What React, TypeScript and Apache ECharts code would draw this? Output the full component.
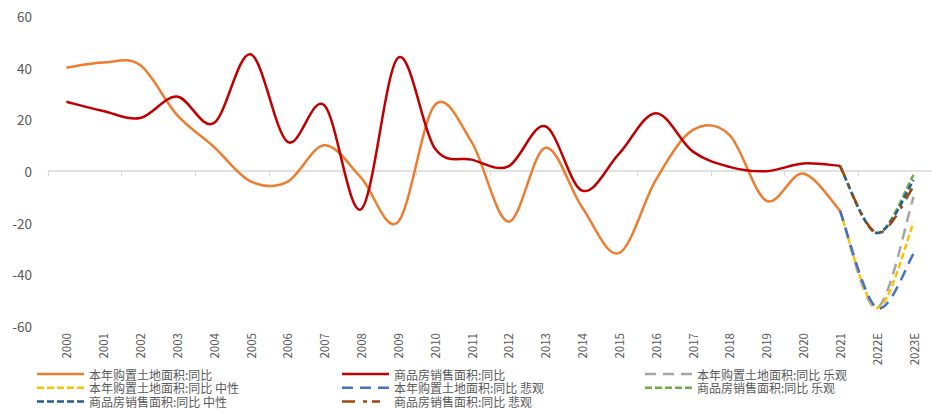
import { useEffect, useRef } from "react";
import * as echarts from "echarts";

// Category axis: 2000–2021 actuals plus two forecast years
const years = [
  "2000", "2001", "2002", "2003", "2004", "2005", "2006", "2007", "2008", "2009",
  "2010", "2011", "2012", "2013", "2014", "2015", "2016", "2017", "2018", "2019",
  "2020", "2021", "2022E", "2023E",
];

// Land purchase area, YoY % (2000–2021)
const landYoY = [
  40, 42, 41, 21.7, 9.4, -4, -4.2, 10, -2.6, -19.8,
  25.5, 11.3, -19.6, 9, -14, -31.8, -3.5, 15.8, 14, -11.5,
  -1, -15.3,
];

// Commodity housing sales area, YoY % (2000–2021)
const salesYoY = [
  26.8, 23.2, 20.5, 28.8, 18.5, 45.2, 11.3, 25.5, -14.8, 43.8,
  8.8, 4.4, 1.8, 17.3, -7.6, 6.6, 22.4, 7.6, 1.6, -0.1,
  2.9, 2.0,
];

// Scenario paths: 2021 actual, 2022E, 2023E
const landOptimistic = [-15.3, -53, -10];
const landNeutral = [-15.3, -53, -20];
const landPessimistic = [-15.3, -53, -32];
const salesOptimistic = [2.0, -24, -1.5];
const salesNeutral = [2.0, -24, -3.5];
const salesPessimistic = [2.0, -24, -6];

const yTicks = { min: -60, max: 60, interval: 20 };

const NAMES = {
  land: "本年购置土地面积:同比",
  sales: "商品房销售面积:同比",
  landOpt: "本年购置土地面积:同比 乐观",
  landNeu: "本年购置土地面积:同比 中性",
  landPes: "本年购置土地面积:同比 悲观",
  salesOpt: "商品房销售面积:同比 乐观",
  salesNeu: "商品房销售面积:同比 中性",
  salesPes: "商品房销售面积:同比 悲观",
};

const TEXT = "#595959";
const FONT = "'Noto Sans CJK SC', 'Noto Sans', sans-serif";

// Dash patterns (px) for the plotted strokes
const DASH_LONG = [11, 7];
const DASH_SHORT = [6.5, 3];
const DASH_DOT = [12, 8, 3, 8];

// Legend glyphs: strips of rectangles, 47 x 2.5
const ICON_SOLID = "path://M0 0H47V2.5H0Z";
const ICON_LONG = "path://M0 0H11V2.5H0ZM18 0H29V2.5H18ZM36 0H47V2.5H36Z";
const ICON_SHORT =
  "path://M0 0H7V2.5H0ZM10 0H17V2.5H10ZM20 0H27V2.5H20ZM30 0H37V2.5H30ZM40 0H47V2.5H40Z";
const ICON_DASHDOT = "path://M0 0H13V2.5H0ZM21 0H25V2.5H21ZM30 0H38V2.5H30ZM47 0L47 2.5";

// Cardinal (Catmull-Rom) smoothing through pixel points, as cubic Béziers
function smoothPath(pts: number[][]): string {
  if (!pts.length) return "";
  let d = `M${pts[0][0]} ${pts[0][1]}`;
  for (let i = 0; i < pts.length - 1; i++) {
    const p0 = pts[i - 1] || pts[i];
    const p1 = pts[i];
    const p2 = pts[i + 1];
    const p3 = pts[i + 2] || p2;
    const c1x = p1[0] + (p2[0] - p0[0]) / 6;
    const c1y = p1[1] + (p2[1] - p0[1]) / 6;
    const c2x = p2[0] - (p3[0] - p1[0]) / 6;
    const c2y = p2[1] - (p3[1] - p1[1]) / 6;
    d += `C${c1x} ${c1y} ${c2x} ${c2y} ${p2[0]} ${p2[1]}`;
  }
  return d;
}

// values placed from a starting category index
const curveSeries = (
  name: string,
  values: number[],
  startIndex: number,
  color: string,
  dash: number[] | null
) => {
  const data = values.map((v, i) => [startIndex + i, v]);
  return {
    name,
    type: "custom",
    xAxisIndex: 0,
    yAxisIndex: 0,
    data,
    encode: { x: 0, y: 1 },
    itemStyle: { color },
    silent: true,
    renderItem: (params: any, api: any) => {
      if (params.dataIndex !== 0) return null;
      const pts = data.map((p) => api.coord(p));
      return {
        type: "path",
        shape: { pathData: smoothPath(pts) },
        style: {
          fill: "none",
          stroke: color,
          lineWidth: 2.5,
          lineDash: dash || undefined,
          lineCap: "butt",
          lineJoin: "round",
        },
      };
    },
  };
};

const legendBase = {
  orient: "vertical",
  top: 368,
  height: 80,
  padding: 0,
  itemWidth: 47,
  itemHeight: 2.5,
  itemGap: 1.7,
  selectedMode: false,
  textStyle: { color: TEXT, fontSize: 12, lineHeight: 12, fontFamily: FONT },
};

const FORECAST_START = years.length - 3;

export default function App() {
  const ref = useRef<HTMLDivElement>(null);

  useEffect(() => {
    if (!ref.current) return;
    const chart = echarts.init(ref.current, undefined, { renderer: "svg" });
    chart.setOption({
      animation: false,
      backgroundColor: "#ffffff",
      grid: { left: 48, right: -4, top: 16, bottom: 83, containLabel: false },
      xAxis: [
        {
          // axis line drawn through zero, ticks between categories
          type: "category",
          data: years,
          position: "bottom",
          boundaryGap: true,
          axisLine: { show: true, onZero: true, lineStyle: { color: "#D9D9D9", width: 1.5 } },
          axisTick: { show: true, length: 5, lineStyle: { color: "#D9D9D9", width: 1 } },
          axisLabel: { show: false },
          splitLine: { show: false },
        },
        {
          // year labels along the bottom edge
          type: "category",
          data: years,
          position: "bottom",
          boundaryGap: true,
          axisLine: { show: false, onZero: false },
          axisTick: { show: false },
          axisLabel: {
            show: true,
            rotate: 90,
            interval: 0,
            margin: 7,
            color: TEXT,
            fontSize: 11.5,
            fontFamily: FONT,
          },
          splitLine: { show: false },
        },
      ],
      yAxis: {
        type: "value",
        min: yTicks.min,
        max: yTicks.max,
        interval: yTicks.interval,
        axisLine: { show: false },
        axisTick: { show: false },
        splitLine: { show: false },
        axisLabel: { color: TEXT, fontSize: 13.5, margin: 16, fontFamily: FONT },
      },
      legend: [
        {
          ...legendBase,
          left: 37,
          data: [
            { name: NAMES.land, icon: ICON_SOLID },
            { name: NAMES.landNeu, icon: ICON_SHORT },
            { name: NAMES.salesNeu, icon: ICON_SHORT },
          ],
        },
        {
          ...legendBase,
          left: 342,
          data: [
            { name: NAMES.sales, icon: ICON_SOLID },
            { name: NAMES.landPes, icon: ICON_LONG },
            { name: NAMES.salesPes, icon: ICON_DASHDOT },
          ],
        },
        {
          ...legendBase,
          left: 645,
          data: [
            { name: NAMES.landOpt, icon: ICON_LONG },
            { name: NAMES.salesOpt, icon: ICON_SHORT },
          ],
        },
      ],
      series: [
        curveSeries(NAMES.land, landYoY, 0, "#ED7D31", null),
        curveSeries(NAMES.sales, salesYoY, 0, "#C00000", null),
        curveSeries(NAMES.landOpt, landOptimistic, FORECAST_START, "#A5A5A5", DASH_LONG),
        curveSeries(NAMES.landNeu, landNeutral, FORECAST_START, "#FFC000", DASH_SHORT),
        curveSeries(NAMES.landPes, landPessimistic, FORECAST_START, "#4472C4", DASH_LONG),
        curveSeries(NAMES.salesOpt, salesOptimistic, FORECAST_START, "#70AD47", DASH_SHORT),
        curveSeries(NAMES.salesNeu, salesNeutral, FORECAST_START, "#255E91", DASH_SHORT),
        curveSeries(NAMES.salesPes, salesPessimistic, FORECAST_START, "#9E480E", DASH_DOT),
      ],
    });
    return () => chart.dispose();
  }, []);

  return (
    <div
      ref={ref}
      style={{ position: "absolute", left: 0, top: 0, width: 932, height: 409 }}
    />
  );
}
